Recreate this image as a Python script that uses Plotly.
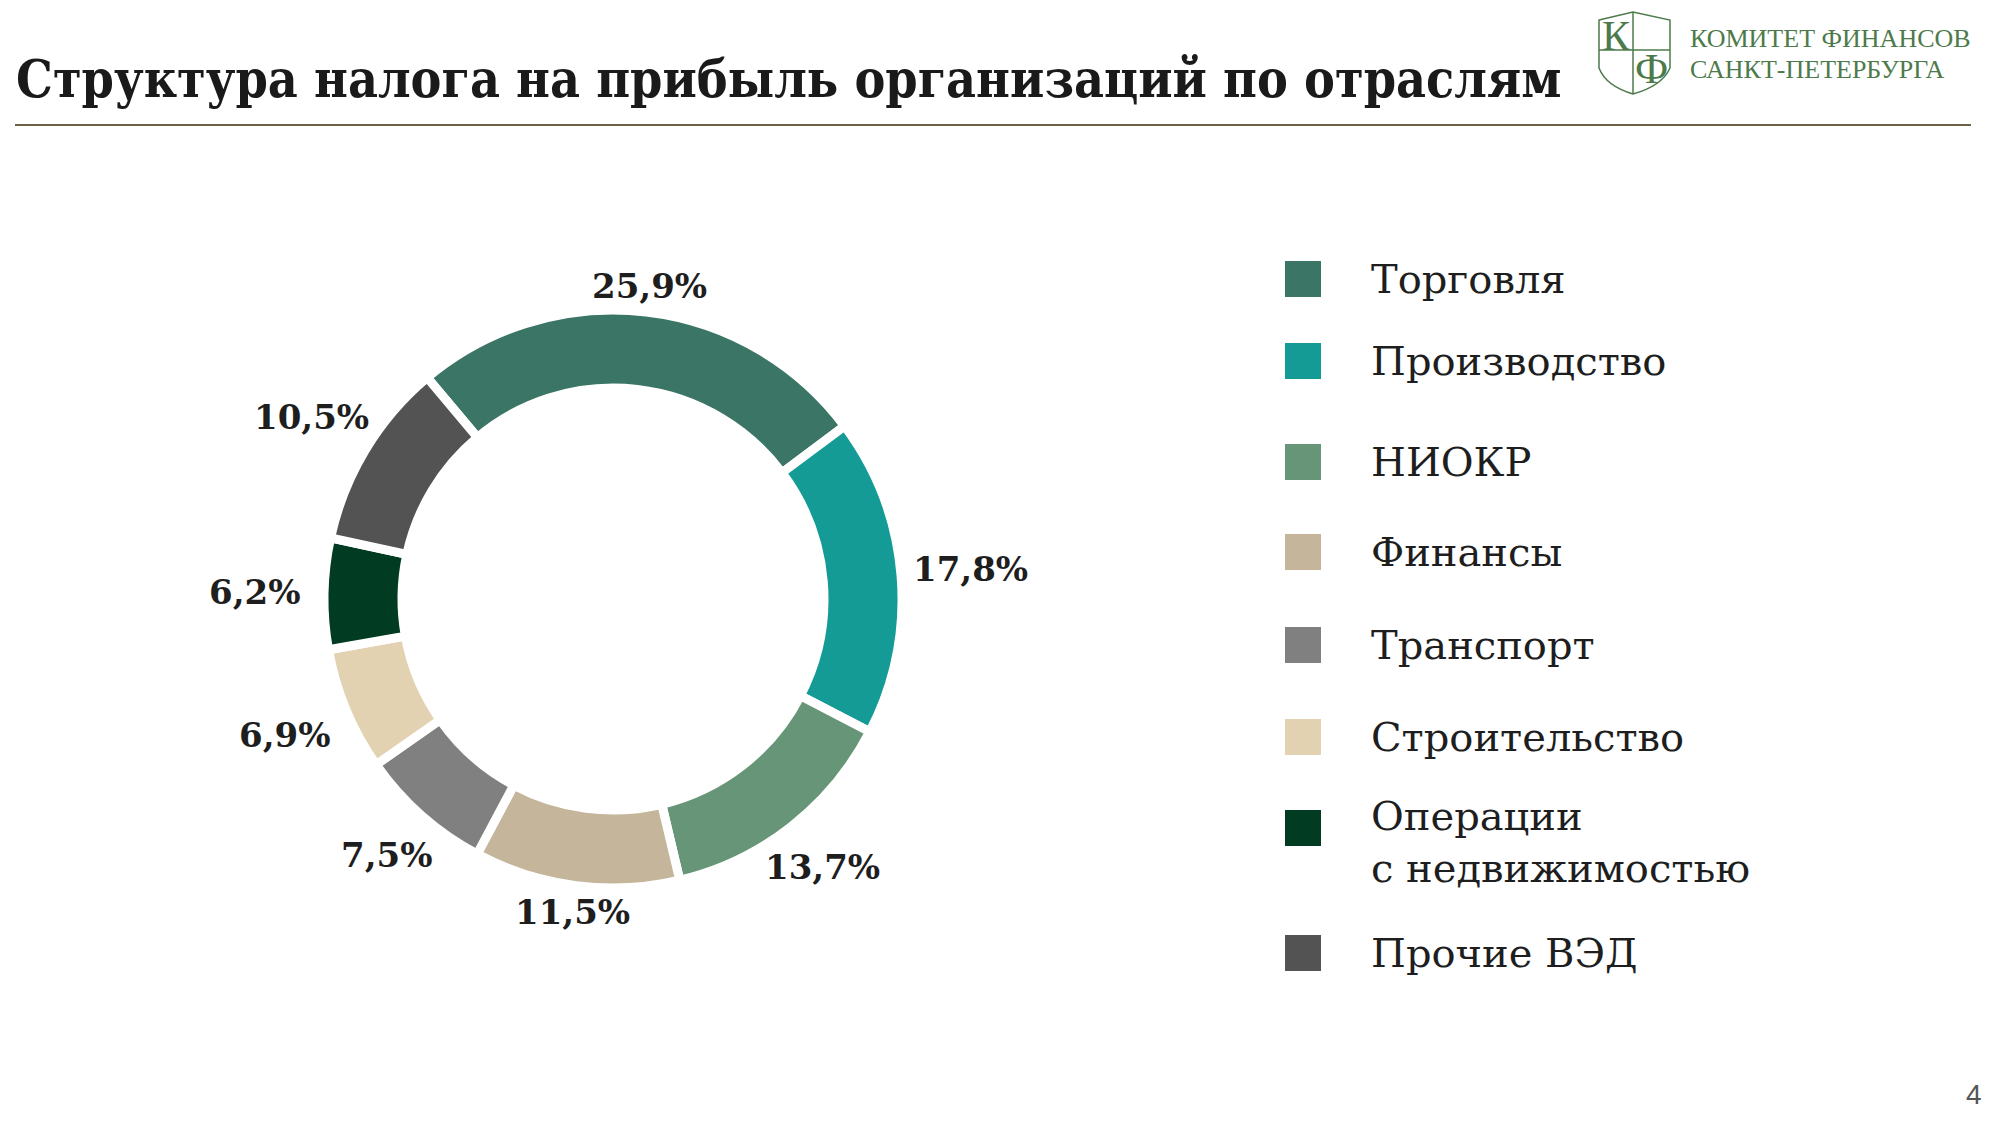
import math
import plotly.graph_objects as go

# данные: структура налога на прибыль по отраслям, %
sectors = ["Торговля", "Производство", "НИОКР", "Финансы", "Транспорт",
           "Строительство", "Операции<br>с недвижимостью", "Прочие ВЭД"]
shares = [25.9, 17.8, 13.7, 11.5, 7.5, 6.9, 6.2, 10.5]
colors = ["#3b7565", "#149b96", "#679577", "#c4b59b", "#808080",
          "#e2d2b2", "#013b21", "#535353"]

W, H = 2000, 1125
OFF = 8  # отступ body в html-странице
SERIF = "DejaVu Serif, Liberation Serif, serif"
TXT = "#1e1e1e"
GREEN = "#4d7a4a"

pct_text = [f"{v:.1f}".replace(".", ",") + "%" for v in shares]

# кольцо: центр и радиус в пикселях экрана
cx, cy, r = 613, 599, 289
start_angle = -40

fig = go.Figure()
fig.add_trace(go.Pie(
    labels=[s.replace("<br>", " ") for s in sectors],
    values=shares,
    text=pct_text,
    textinfo="none",
    hole=0.73,
    sort=False,
    direction="clockwise",
    rotation=start_angle,
    marker=dict(colors=colors, line=dict(color="white", width=9)),
    domain=dict(x=[(cx - r - OFF) / W, (cx + r - OFF) / W],
                y=[1 - (cy + r - OFF) / H, 1 - (cy - r - OFF) / H]),
    showlegend=False,
    hoverinfo="label+text",
))

annotations = []

# подписи долей снаружи кольца, по середине каждого сектора
total = sum(shares)
cum = 0.0
for v, t in zip(shares, pct_text):
    mid = math.radians(start_angle + (cum + v / 2) / total * 360)
    cum += v
    rho = 284 + 25 + 50 * abs(math.sin(mid))
    annotations.append(dict(x=cx + rho * math.sin(mid), y=cy - rho * math.cos(mid),
                            xref="x", yref="y", text=t, showarrow=False,
                            xanchor="center", yanchor="middle",
                            font=dict(family=SERIF, size=34, color=TXT, weight="bold")))

# своя легенда: квадраты на скрытых осях в пикселях
leg_y = [279, 361, 462, 552, 645, 737, 828, 953]
fig.add_trace(go.Scatter(
    x=[1303] * len(sectors), y=leg_y, mode="markers",
    marker=dict(symbol="square", size=36, color=colors, line=dict(width=0)),
    showlegend=False, hoverinfo="skip",
))

for name, y in zip(sectors, leg_y):
    dy = 14 if "<br>" in name else 0
    annotations.append(dict(x=1369, y=y + dy, xref="x", yref="y", text=name,
                            showarrow=False, xanchor="left", yanchor="middle",
                            align="left", font=dict(family=SERIF, size=40, color=TXT)))

# заголовок
annotations.append(dict(x=14, y=79, xref="x", yref="y",
                        text="<b>Структура налога на прибыль организаций по отраслям</b>",
                        showarrow=False, xanchor="left", yanchor="middle",
                        font=dict(family="DejaVu Serif Condensed, DejaVu Serif, serif",
                                  size=51.5, color="#1a1a1a")))

# логотип
annotations += [
    dict(x=1688, y=38, xref="x", yref="y", text="КОМИТЕТ ФИНАНСОВ", showarrow=False,
         xanchor="left", yanchor="middle", font=dict(family="Liberation Serif, serif", size=26, color=GREEN)),
    dict(x=1688, y=69, xref="x", yref="y", text="САНКТ-ПЕТЕРБУРГА", showarrow=False,
         xanchor="left", yanchor="middle", font=dict(family="Liberation Serif, serif", size=26, color=GREEN)),
    dict(x=1616, y=36, xref="x", yref="y", text="К", showarrow=False,
         xanchor="center", yanchor="middle", font=dict(family="Liberation Serif, serif", size=42, color=GREEN)),
    dict(x=1651, y=69, xref="x", yref="y", text="Ф", showarrow=False,
         xanchor="center", yanchor="middle", font=dict(family="Liberation Serif, serif", size=42, color=GREEN)),
    dict(x=1974, y=1094, xref="x", yref="y", text="4", showarrow=False,
         xanchor="center", yanchor="middle", font=dict(family="Liberation Sans, sans-serif", size=28, color="#555555")),
]

shapes = [
    dict(type="line", xref="x", yref="y", x0=15, x1=1971, y0=125, y1=125,
         line=dict(color="#6b6246", width=2)),
    dict(type="path", xref="x", yref="y",
         path="M1599,20 L1633,12 L1670,20 L1670,68 Q1662,86 1633,94 Q1606,86 1599,68 Z",
         line=dict(color=GREEN, width=1.5)),
    dict(type="line", xref="x", yref="y", x0=1633, x1=1633, y0=12, y1=94,
         line=dict(color=GREEN, width=1.5)),
    dict(type="line", xref="x", yref="y", x0=1599, x1=1670, y0=50, y1=50,
         line=dict(color=GREEN, width=1.5)),
]

fig.update_layout(
    width=W, height=H,
    margin=dict(l=0, r=0, t=0, b=0),
    paper_bgcolor="white", plot_bgcolor="white",
    xaxis=dict(range=[OFF, W + OFF], visible=False, fixedrange=True),
    yaxis=dict(range=[H + OFF, OFF], visible=False, fixedrange=True),
    annotations=annotations,
    shapes=shapes,
)

fig.write_html("out.html")
